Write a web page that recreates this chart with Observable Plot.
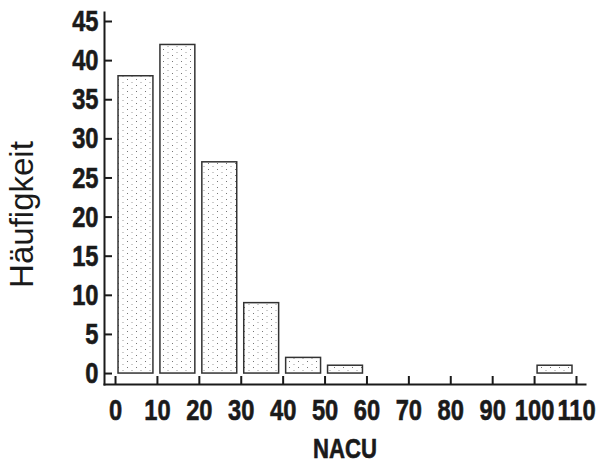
<!DOCTYPE html>
<html><head><meta charset="utf-8">
<script src="https://cdn.jsdelivr.net/npm/d3@7"></script>
<script src="https://cdn.jsdelivr.net/npm/@observablehq/plot@0.6"></script>
<style>body{margin:0;background:#fff}</style>
</head><body><div id="chart"></div>
<script>
const binStarts = [0, 10, 20, 30, 40, 50, 100];
const binEnds = [10, 20, 30, 40, 50, 60, 110];
const counts = [38, 42, 27, 9, 2, 1, 1];
const xTicks = [0, 10, 20, 30, 40, 50, 60, 70, 80, 90, 100, 110];
const yTicks = [0, 5, 10, 15, 20, 25, 30, 35, 40, 45];
const xLabel = "NACU";
const yLabel = "Häufigkeit";

const data = binStarts.map((s, i) => ({x1: s, x2: binEnds[i], count: counts[i]}));
const sans = "'Liberation Sans', Arial, sans-serif";

const plot = Plot.plot({
  width: 596, height: 466,
  marginLeft: 104, marginRight: 11, marginTop: 12, marginBottom: 82,
  style: {fontFamily: sans, fontWeight: "bold", fontSize: "30px", color: "#1a1a1a", background: "#fff", overflow: "visible"},
  x: {domain: [-2.63, 112.15]},
  y: {domain: [-1.4, 46.15]},
  marks: [
    Plot.rectY(data, {x1: "x1", x2: "x2", y: "count", fill: "url(#dots)", stroke: "#333", strokeWidth: 1.5, insetLeft: 3, insetRight: 4}),
    Plot.frame({anchor: "left", stroke: "#1a1a1a", strokeWidth: 2}),
    Plot.frame({anchor: "bottom", stroke: "#1a1a1a", strokeWidth: 2}),
    Plot.axisX({ticks: xTicks, tickSize: -8, tickFormat: () => "", strokeWidth: 2, label: null}),
    Plot.axisX({ticks: xTicks, tickSize: 0, tickPadding: 14, fontSize: 30, label: null}),
    Plot.axisY({ticks: yTicks, tickSize: -8, tickFormat: () => "", strokeWidth: 2, label: null}),
    Plot.axisY({ticks: yTicks, tickSize: 0, tickPadding: 6, fontSize: 30, label: null}),
    Plot.text([xLabel], {frameAnchor: "bottom", textAnchor: "middle", lineAnchor: "bottom", dy: 73, fontSize: 28, fontWeight: "bold", fill: "#1a1a1a"}),
    Plot.text([yLabel], {frameAnchor: "left", textAnchor: "middle", rotate: -90, dx: -72, dy: 16, lineAnchor: "bottom", fontSize: 33, fontWeight: "normal", fontFamily: sans, fill: "#1a1a1a"})
  ]
});

const svg = d3.select(plot);
const defs = svg.insert("defs", ":first-child");
const pat = defs.append("pattern").attr("id", "dots").attr("patternUnits", "userSpaceOnUse")
  .attr("width", 9).attr("height", 6);
pat.append("rect").attr("width", 9).attr("height", 6).attr("fill", "#fff");
pat.append("rect").attr("x", 1).attr("y", 1).attr("width", 1).attr("height", 1).attr("fill", "#777");
pat.append("rect").attr("x", 5.5).attr("y", 4).attr("width", 1).attr("height", 1).attr("fill", "#999");
document.getElementById("chart").append(plot);

// condense bold labels horizontally to mimic a narrow bold face
svg.selectAll("text").each(function () {
  if (this.textContent === yLabel || !this.textContent) return;
  const t = this.getAttribute("transform") || "";
  this.setAttribute("transform", (t + " scale(0.79,1)").trim());
  this.style.stroke = "#1a1a1a";
  this.style.strokeWidth = "0.6px";
});
</script>
</body></html>
